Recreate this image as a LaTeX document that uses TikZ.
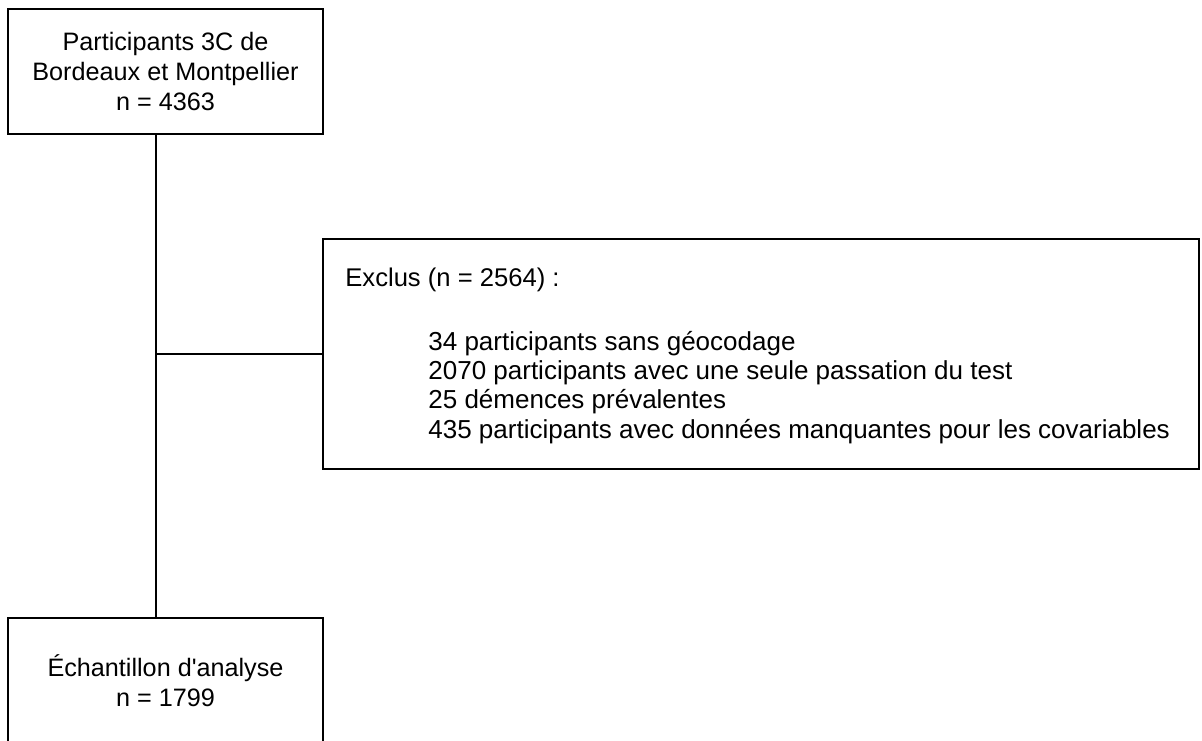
\documentclass[tikz,border=0pt]{standalone}
\usepackage{fontspec}
\setmainfont{Liberation Sans}
\begin{document}
\begin{tikzpicture}[x=0.5pt, y=-0.5pt,
		b/.style = {rectangle, draw=black, line width=1pt, minimum width=157.5pt, minimum height=62.5pt, inner sep=0pt, align=center, font=\fontsize{12.6}{15}\selectfont},
		e/.style = {rectangle, draw=black, line width=1pt, minimum width=438pt, minimum height=115pt, inner sep=0pt},
		t/.style = {inner sep=0pt, align=left, font=\fontsize{12.8}{14.6}\selectfont},
		l/.style = {line width=0.9pt}
		]
		\clip (0,0) rectangle (1202,740);
		
		%Nodes
		\node[b]	(part)	at	(165.5, 71.5)	{Participants 3C de\\Bordeaux et Montpellier\\n = 4363};
		\node[b]	(ech)	at	(165.5, 680.5)	{Échantillon d\textquotesingle analyse\\n = 1799};
		\node[e]	(excl)	at	(761, 354)		{};
		\node[t, anchor=base west]	(exclt)	at	(345, 286)	{Exclus (n = 2564) :};
		\node[t, anchor=north west, font=\fontsize{13}{14.6}\selectfont]	(excll)	at	(428, 331)	{34 participants sans géocodage\\2070 participants avec une seule passation du test\\25 démences prévalentes\\435 participants avec données manquantes pour les covariables};
		\coordinate	(j)	at	(156, 354);
		
		%Lines
		\draw[l]	(j |- part.south)	--	(j |- ech.north);
		\draw[l]	(j)	--	(excl.west);
	\end{tikzpicture}
\end{document}
